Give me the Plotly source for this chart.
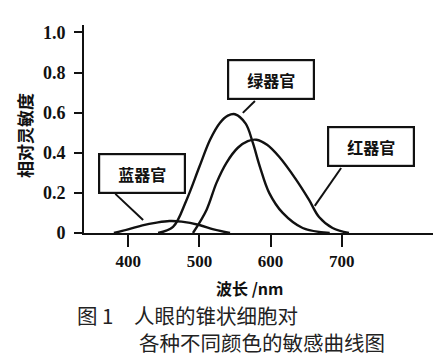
import plotly.graph_objects as go

# ---- data ----
blue_nm = [380, 400, 420, 440, 458, 475, 500, 520, 543]
blue_val = [0.0, 0.018, 0.038, 0.052, 0.06, 0.057, 0.04, 0.018, 0.0]

green_nm = [442, 463, 482, 500, 515, 529, 540, 550, 565, 575, 585, 598, 617, 645, 683]
green_val = [0.0, 0.03, 0.165, 0.33, 0.465, 0.55, 0.585, 0.592, 0.545, 0.45, 0.33, 0.2, 0.1, 0.025, 0.0]

red_nm = [491, 510, 524, 538, 554, 568, 580, 595, 612, 636, 654, 668, 687, 710]
red_val = [0.0, 0.115, 0.25, 0.35, 0.425, 0.458, 0.465, 0.44, 0.38, 0.265, 0.165, 0.08, 0.025, 0.0]

x_ticks = [400, 500, 600, 700]
y_ticks = [0, 0.2, 0.4, 0.6, 0.8, 1.0]
y_ticktext = ["0", "0.2", "0.4", "0.6", "0.8", "1.0"]

labels = ["蓝器官", "绿器官", "红器官"]
label_pos = [(419, 0.299), (601, 0.766), (741, 0.431)]
pointer = [((382, 0.195), (421, 0.065)),
           ((578, 0.658), (561, 0.599)),
           ((699, 0.324), (662, 0.135))]

line_col = "#111111"
cjk = "Noto Sans CJK SC"

fig = go.Figure()
for xs, ys in [(blue_nm, blue_val), (green_nm, green_val), (red_nm, red_val)]:
    fig.add_trace(go.Scatter(x=xs, y=ys, mode="lines",
                             line=dict(color=line_col, width=2.4, shape="spline", smoothing=1.0),
                             showlegend=False, hoverinfo="skip"))

annotations = []
shapes = []
for text, (lx, ly), ((x0, y0), (x1, y1)) in zip(labels, label_pos, pointer):
    annotations.append(dict(x=lx, y=ly, xref="x", yref="y", text=text, showarrow=False,
                            width=82, height=35, borderpad=1, borderwidth=2.2,
                            bordercolor=line_col, bgcolor="white",
                            font=dict(family=cjk, size=16, color=line_col, weight="bold")))
    shapes.append(dict(type="line", xref="x", yref="y", x0=x0, y0=y0, x1=x1, y1=y1,
                       line=dict(color=line_col, width=2)))

# axis titles and caption
annotations.append(dict(xref="x domain", yref="y domain", x=-0.17, y=0.47, text="相对灵敏度",
                        xanchor="center", yanchor="middle", showarrow=False, textangle=-90,
                        font=dict(family=cjk, size=17, color=line_col, weight="bold")))
annotations.append(dict(xref="paper", yref="paper", x=0.475, y=-0.264, text="波长 /nm",
                        showarrow=False, xanchor="center", yanchor="middle",
                        font=dict(family=cjk, size=16, color=line_col, weight="bold")))
annotations.append(dict(xref="paper", yref="paper", x=-0.026, y=-0.394,
                        text="图 1", showarrow=False, xanchor="left", yanchor="middle",
                        font=dict(family=cjk, size=20.5, color="#222222")))
annotations.append(dict(xref="paper", yref="paper", x=0.138, y=-0.394,
                        text="人眼的锥状细胞对", showarrow=False,
                        xanchor="left", yanchor="middle",
                        font=dict(family=cjk, size=20.5, color="#222222")))
annotations.append(dict(xref="paper", yref="paper", x=0.152, y=-0.524,
                        text="各种不同颜色的敏感曲线图", showarrow=False,
                        xanchor="left", yanchor="middle",
                        font=dict(family=cjk, size=20.5, color="#222222")))

# page body adds an 8px margin, so the figure is 8px smaller than the window
fig.update_layout(
    width=437, height=348,
    margin=dict(l=76, r=12, t=17, b=123),
    paper_bgcolor="white", plot_bgcolor="white",
    annotations=annotations, shapes=shapes,
    xaxis=dict(range=[338, 828], tickvals=x_ticks, showgrid=False, zeroline=False,
               showline=True, linecolor=line_col, linewidth=2,
               ticks="outside", ticklen=12, tickwidth=2, tickcolor=line_col,
               tickfont=dict(family="Liberation Serif", size=17, color=line_col, weight="bold")),
    yaxis=dict(range=[0, 1.037], tickvals=y_ticks, ticktext=y_ticktext, showgrid=False,
               zeroline=False, showline=True, linecolor=line_col, linewidth=2,
               ticks="outside", ticklen=8, tickwidth=2, tickcolor=line_col,
               ticklabelstandoff=5,
               tickfont=dict(family="Liberation Serif", size=18, color=line_col, weight="bold")),
)

fig.write_html("out.html")
